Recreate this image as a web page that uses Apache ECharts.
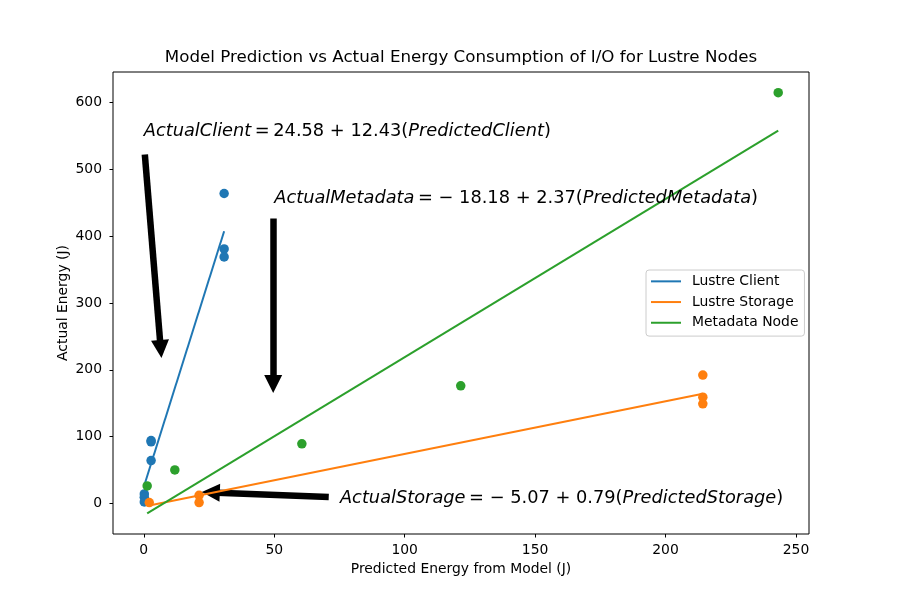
<!DOCTYPE html>
<html>
<head>
<meta charset="utf-8">
<script src="https://cdn.jsdelivr.net/npm/echarts@6/dist/echarts.min.js"></script>
<style>html,body{margin:0;padding:0;background:#fff}#c{width:900px;height:600px}</style>
</head>
<body>
<div id="c"></div>
<script>
// ---- data ----
const seriesNames = ['Lustre Client', 'Lustre Storage', 'Metadata Node'];
const clientX = [0.2, 0.2, 0.2, 2.8, 2.8, 2.8, 30.8, 30.8, 30.8];
const clientY = [14, 9, 2, 94, 92, 64, 464, 381, 369];
const storageX = [2.1, 21.2, 21.2, 214.3, 214.3, 214.3];
const storageY = [1, 12, 1, 192, 159, 149];
const metaX = [1.3, 11.9, 60.6, 121.5, 243.2];
const metaY = [26, 50, 89, 176, 615];
const clientLine = [[0.2, 27.1], [30.8, 407.4]];
const storageLine = [[2.1, -3.4], [214.3, 164.2]];
const metaLine = [[1.3, -15.1], [243.2, 558.2]];
const xTicks = [0, 50, 100, 150, 200, 250];
const yTicks = [0, 100, 200, 300, 400, 500, 600];
const annoX = [0, 50, 75.2];
const annoY = [557, 456.5, 7];
const annoText = [
  '{i|ActualClient}{n|\u2009=\u200924.58 + 12.43(}{i|PredictedClient}{n|)}',
  '{i|ActualMetadata}{n|\u2009= − 18.18 + 2.37(}{i|PredictedMetadata}{n|)}',
  '{i|ActualStorage}{n|\u2009= − 5.07 + 0.79(}{i|PredictedStorage}{n|)}'
];
const arrowFrom = [[0.4, 522.4], [49.6, 426.4], [70.9, 9.5]];
const arrowTo = [[6.5, 231], [49.6, 178.5], [25.7, 16.3]];

const colors = ['#1f77b4', '#ff7f0e', '#2ca02c'];
const FONT = 'DejaVu Sans';
const zip = (xs, ys) => xs.map((x, i) => [x, ys[i]]);

const chart = echarts.init(document.getElementById('c'), null, {renderer: 'canvas'});
const tickStyle = {show: true, inside: false, length: 3.5, lineStyle: {color: '#000', width: 1}};
const axisCommon = {
  type: 'value',
  axisLine: {show: false, onZero: false},
  splitLine: {show: false},
  nameLocation: 'middle',
  nameMoveOverlap: false,
  nameTextStyle: {fontFamily: FONT, fontSize: 13.9, color: '#000'},
};
const legendIcon = 'path://M0,0H30V2H0Z';
const annoFont = 17.8;
chart.setOption({
  animation: false,
  backgroundColor: '#fff',
  grid: {left: 113, right: 91, top: 72, bottom: 66, show: true, borderColor: '#000', borderWidth: 1, backgroundColor: 'transparent'},
  graphic: [{
    type: 'text', x: 461, y: 58,
    style: {text: 'Model Prediction vs Actual Energy Consumption of I/O for Lustre Nodes', font: '16.7px "DejaVu Sans"', fill: '#000', align: 'center', verticalAlign: 'middle'}
  }],
  legend: {
    data: seriesNames.map(n => ({name: n, icon: legendIcon})),
    orient: 'vertical',
    left: 646, top: 270,
    padding: [1, 6, 3, 5],
    itemWidth: 30, itemHeight: 2, itemGap: 0,
    borderColor: '#cccccc', borderWidth: 1, borderRadius: 3,
    backgroundColor: 'rgba(255,255,255,0.8)',
    textStyle: {fontFamily: FONT, fontSize: 13.9, color: '#000', lineHeight: 20.7, padding: [0, 0, 0, 6]}
  },
  xAxis: Object.assign({}, axisCommon, {
    min: -11.8, max: 255.0,
    name: 'Predicted Energy from Model (J)', nameGap: 28,
    axisTick: Object.assign({}, tickStyle, {customValues: xTicks}),
    axisLabel: {customValues: xTicks, fontFamily: FONT, fontSize: 13.9, color: '#000', margin: 9}
  }),
  yAxis: Object.assign({}, axisCommon, {
    min: -46, max: 646,
    name: 'Actual Energy (J)', nameGap: 43,
    axisTick: Object.assign({}, tickStyle, {customValues: yTicks}),
    axisLabel: {customValues: yTicks, fontFamily: FONT, fontSize: 13.9, color: '#000', margin: 11}
  }),
  series: [
    {type: 'scatter', name: 'client pts', data: zip(clientX, clientY), symbolSize: 9.5, itemStyle: {color: colors[0], opacity: 1}, z: 2},
    {type: 'line', name: seriesNames[0], data: clientLine, symbol: 'none', lineStyle: {color: colors[0], width: 2}, itemStyle: {color: colors[0]}, z: 3},
    {type: 'scatter', name: 'storage pts', data: zip(storageX, storageY), symbolSize: 9.5, itemStyle: {color: colors[1], opacity: 1}, z: 4},
    {type: 'line', name: seriesNames[1], data: storageLine, symbol: 'none', lineStyle: {color: colors[1], width: 2}, itemStyle: {color: colors[1]}, z: 5},
    {type: 'scatter', name: 'meta pts', data: zip(metaX, metaY), symbolSize: 9.5, itemStyle: {color: colors[2], opacity: 1}, z: 6},
    {type: 'line', name: seriesNames[2], data: metaLine, symbol: 'none', lineStyle: {color: colors[2], width: 2}, itemStyle: {color: colors[2]}, z: 7},
    {
      type: 'scatter', name: 'annotations', silent: true, z: 10,
      symbolSize: 0,
      itemStyle: {opacity: 1, color: '#000'},
      data: annoX.map((x, i) => ({value: [x, annoY[i]], label: {formatter: annoText[i]}})),
      label: {
        show: true, position: 'right', distance: 0, align: 'left', verticalAlign: 'middle',
        fontFamily: FONT, fontSize: annoFont, color: '#000', opacity: 1,
        rich: {
          i: {fontFamily: FONT, fontSize: annoFont, fontStyle: 'italic', color: '#000'},
          n: {fontFamily: FONT, fontSize: annoFont, color: '#000'}
        }
      },
      markLine: {
        silent: true, animation: false,
        symbol: ['none', 'triangle'], symbolSize: [18, 18],
        lineStyle: {color: '#000', width: 6.5, type: 'solid', opacity: 1},
        itemStyle: {color: '#000'},
        label: {show: false},
        data: arrowFrom.map((f, i) => [{coord: f}, {coord: arrowTo[i]}])
      }
    }
  ]
});
</script>
</body>
</html>
